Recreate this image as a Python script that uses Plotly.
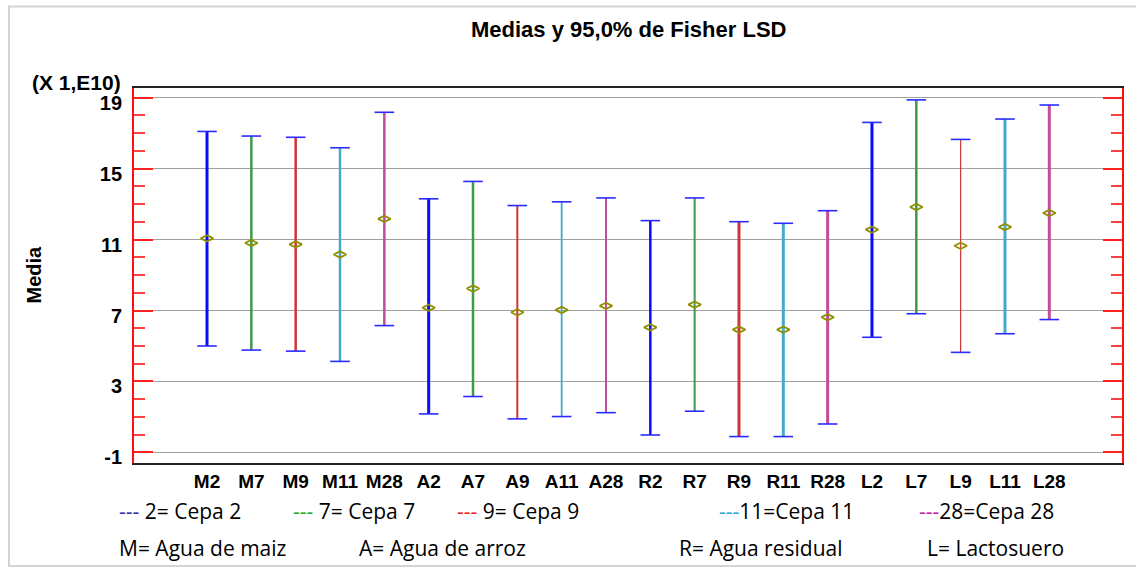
import plotly.graph_objects as go

# ---------------- data ----------------
groups = ["M2", "M7", "M9", "M11", "M28", "A2", "A7", "A9", "A11", "A28",
          "R2", "R7", "R9", "R11", "R28", "L2", "L7", "L9", "L11", "L28"]
strain = [2, 7, 9, 11, 28] * 4
means = [11.07, 10.81, 10.73, 10.16, 12.17, 7.16, 8.24, 6.90, 7.03, 7.26,
         6.05, 7.33, 5.92, 5.92, 6.62, 11.56, 12.84, 10.65, 11.71, 12.50]
upper = [17.10, 16.84, 16.77, 16.18, 18.18, 13.30, 14.28, 12.92, 13.13, 13.35,
         12.07, 13.35, 12.01, 11.92, 12.63, 17.61, 18.88, 16.65, 17.80, 18.59]
lower = [5.00, 4.77, 4.71, 4.13, 6.15, 1.17, 2.15, 0.89, 1.02, 1.24,
         -0.02, 1.32, -0.11, -0.11, 0.60, 5.49, 6.82, 4.64, 5.69, 6.49]
y_ticks = [-1, 3, 7, 11, 15, 19]
y_ticktext = ["-1", "3", "7", "11", "15", "19"]

legend_strains = ["2= Cepa 2", "7= Cepa 7", "9= Cepa 9", "11=Cepa 11", "28=Cepa 28"]
legend_media = ["M= Agua de maiz", "A= Agua de arroz", "R= Agua residual", "L= Lactosuero"]

# ---------------- styles ----------------
bar_color = {2: "#0A0AFF", 7: "#3E9A4A", 9: "#D03434", 11: "#44AACA", 28: "#C24C9C"}
dash_color = {2: "#2E2EA8", 7: "#1FAA2A", 9: "#EE2222", 11: "#22AADD", 28: "#BB22AA"}
bar_width = [3, 2.5, 2.5, 2.5, 2.5, 3, 2.5, 2, 1.8, 2,
             2.5, 2, 3, 3, 3, 3, 2.5, 1.2, 3, 3]

W, H = 1136, 567
ML, MR, MT, MB = 134, 14, 88, 104
PW, PH = W - ML - MR, H - MT - MB


def px_x(px):
    return (px - ML) / PW


def px_y(py):
    return (H - MB - py) / PH


xpos = list(range(len(groups)))

fig = go.Figure()

for i, g in enumerate(groups):
    fig.add_trace(go.Scatter(
        x=[xpos[i], xpos[i]], y=[lower[i], upper[i]], mode="lines",
        line=dict(color=bar_color[strain[i]], width=bar_width[i]),
        showlegend=False, hoverinfo="skip"))

# caps
fig.add_trace(go.Scatter(
    x=xpos + xpos, y=upper + lower, mode="markers",
    marker=dict(symbol="line-ew", size=14, line=dict(color="#2A2AFF", width=1.6)),
    showlegend=False, hoverinfo="skip"))

# means
fig.add_trace(go.Scatter(
    x=xpos, y=means, mode="markers",
    marker=dict(symbol="diamond-wide-open", size=9, color="#8F8F00",
                line=dict(color="#8F8F00", width=1.8)),
    showlegend=False))

fig.update_layout(
    width=W, height=H,
    margin=dict(l=ML, r=MR, t=MT, b=MB),
    paper_bgcolor="white", plot_bgcolor="white",
    showlegend=False,
    font=dict(family="Liberation Sans, Arial, sans-serif", color="black"),
)

fig.update_xaxes(
    range=[-1.647, 20.64], tickmode="array", tickvals=xpos, ticktext=groups,
    showgrid=False, zeroline=False, ticks="",
    showline=True, linecolor="#222222", linewidth=1.5, mirror=True,
    tickfont=dict(family="Liberation Sans", size=19, color="black", weight="bold"),
)

fig.update_yaxes(
    range=[-1.6, 19.55], tickmode="array", tickvals=y_ticks, ticktext=y_ticktext,
    showgrid=True, gridcolor="#A0A0A0", gridwidth=1.3, zeroline=False,
    showline=True, linecolor="#FF1010", linewidth=1.8, mirror="ticks",
    ticks="inside", ticklen=19, tickcolor="#FF2020", tickwidth=1.5,
    minor=dict(dtick=1, tick0=-1, ticks="inside", ticklen=11,
               tickcolor="#FF4040", tickwidth=1.5, showgrid=False),
    tickfont=dict(family="Liberation Sans", size=20, color="black", weight="bold"),
    ticklabelstandoff=6, ticklabelshift=5,
)

ann = []
ann.append(dict(text="<b>Medias y 95,0% de Fisher LSD</b>", xref="paper", yref="paper",
                x=px_x(628.5), y=px_y(29), xanchor="center", yanchor="middle",
                showarrow=False, font=dict(family="Liberation Sans", size=22, color="black")))
ann.append(dict(text="<b>(X 1,E10)</b>", xref="paper", yref="paper",
                x=px_x(123), y=px_y(83), xanchor="right", yanchor="middle",
                showarrow=False, font=dict(family="Liberation Sans", size=21, color="black")))
ann.append(dict(text="<b>Media</b>", xref="paper", yref="paper", textangle=-90,
                x=px_x(33.5), y=px_y(275), xanchor="center", yanchor="middle",
                showarrow=False, font=dict(family="Liberation Sans", size=20, color="black")))

row1_x = [117, 291, 455, 717, 917]
for k, (s, lbl) in enumerate(zip([2, 7, 9, 11, 28], legend_strains)):
    sep = " " if s < 10 else ""
    ann.append(dict(text=f"<span style='color:{dash_color[s]}'>---</span>{sep}{lbl}",
                    xref="paper", yref="paper", x=px_x(row1_x[k]), y=px_y(510.5),
                    xanchor="left", yanchor="middle", showarrow=False,
                    font=dict(family="Open Sans", size=21, color="black")))
row2_x = [117, 357, 677, 925]
for k, lbl in enumerate(legend_media):
    ann.append(dict(text=lbl, xref="paper", yref="paper", x=px_x(row2_x[k]), y=px_y(548),
                    xanchor="left", yanchor="middle", showarrow=False,
                    font=dict(family="Open Sans", size=21, color="black")))

fig.update_layout(annotations=ann)

fig.add_shape(type="rect", xref="paper", yref="paper",
              x0=px_x(9), x1=px_x(1145), y0=px_y(566), y1=px_y(6.5),
              line=dict(color="#D4D4D4", width=2), layer="below")

fig.write_html("out.html", config={"displayModeBar": False},
               post_script="document.body.style.margin='0';document.body.style.padding='0';")
